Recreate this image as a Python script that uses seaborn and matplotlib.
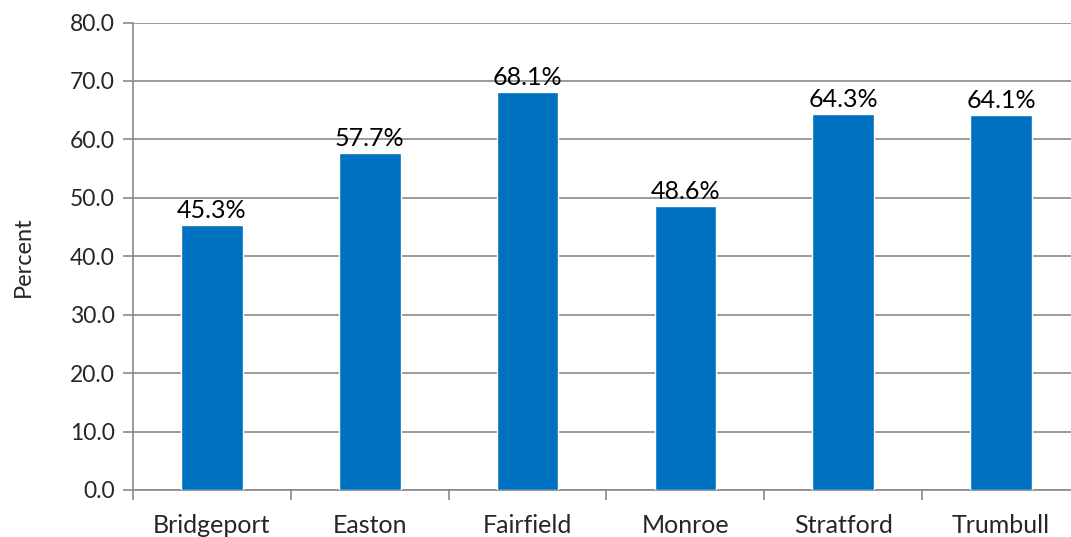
import matplotlib
matplotlib.use("Agg")
import matplotlib.pyplot as plt
import seaborn as sns
import pandas as pd

towns = ["Bridgeport", "Easton", "Fairfield", "Monroe", "Stratford", "Trumbull"]
values = [45.3, 57.7, 68.1, 48.6, 64.3, 64.1]
y_ticks = [0, 10, 20, 30, 40, 50, 60, 70, 80]

sns.set_theme(style="white")
plt.rcParams['font.family'] = ['Lato', 'DejaVu Sans']

df = pd.DataFrame({"Town": towns, "Percent": values})

fig = plt.figure(figsize=(10.71, 5.37), dpi=100)
ax = fig.add_axes([133/1071, 1 - 490/537, (1080-133)/1071, (490-22.5)/537])

sns.barplot(data=df, x="Town", y="Percent", color="#0070C0", saturation=1,
            width=0.39, ax=ax, zorder=3)

ax.set_ylim(0, 80)
ax.set_xlim(-0.5, 5.5)
ax.set_yticks(y_ticks)
ax.set_yticklabels([f"{v:.1f}" for v in y_ticks], fontsize=16.5)
ax.yaxis.grid(True, color="#898989", linewidth=1.2, zorder=0)
ax.set_axisbelow(True)

# category boundary ticks on x
ax.set_xticks([i - 0.5 for i in range(7)], minor=False)
ax.set_xticklabels([])
ax.set_xticks(range(6), minor=True)
ax.set_xticklabels(towns, minor=True, fontsize=18)
ax.tick_params(axis="x", which="major", length=7, width=1.2, color="#898989", direction="out", bottom=True)
ax.tick_params(axis="x", which="minor", length=0, pad=17)
ax.tick_params(axis="y", length=7, width=1.2, color="#898989", direction="out", left=True, pad=6)

for s in ["top", "right"]:
    ax.spines[s].set_visible(False)
for s in ["left", "bottom"]:
    ax.spines[s].set_color("#898989")
    ax.spines[s].set_linewidth(1.2)

for i, v in enumerate(values):
    ax.text(i, v + 0.5, f"{v:.1f}%", ha="center", va="bottom", fontsize=18, color="#000000")

ax.set_xlabel("")
ax.set_ylabel("Percent", fontsize=17, labelpad=26)

fig.savefig("out.png", dpi=100)
